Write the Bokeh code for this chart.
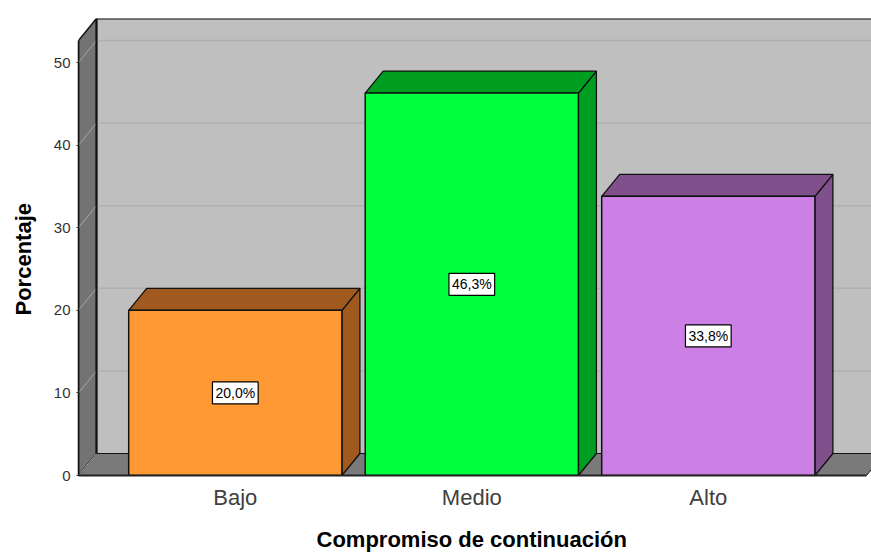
from bokeh.embed import file_html
from bokeh.models import FixedTicker, LinearAxis, Title
from bokeh.plotting import figure
from bokeh.resources import INLINE
from bokeh.core.properties import value

categories = ["Bajo", "Medio", "Alto"]
percentages = [20.0, 46.3, 33.8]
face_colors = ["#ff9933", "#00ff3c", "#cc80e6"]
side_colors = ["#a05a20", "#009e20", "#80508c"]
y_ticks = [0, 10, 20, 30, 40, 50]

FONT = "Liberation Sans"
UNITS_PER_BAR = 236.5
PX_PER_PCT = 8.26
CENTER_PX = 234.8
DX = 18 / UNITS_PER_BAR       # depth of the 3D box, horizontally
DY = 22 / PX_PER_PCT          # depth of the 3D box, vertically
HALF = 106.6 / UNITS_PER_BAR  # half the width of a bar face
LEFT = (78 - CENTER_PX) / UNITS_PER_BAR
RIGHT = (871 - CENTER_PX) / UNITS_PER_BAR
FLOOR_RIGHT = (866 - CENTER_PX) / UNITS_PER_BAR
TOP = 52.66

p = figure(
    width=871, height=552, output_backend="svg", toolbar_location=None,
    x_range=(LEFT, RIGHT), y_range=(0, (475 - 18) / PX_PER_PCT),
    min_border_left=78, min_border_right=0, min_border_top=18, min_border_bottom=77,
    background_fill_color="white", border_fill_color="white",
)
p.outline_line_color = None
p.grid.visible = False

# Box walls: back, left side and floor
p.patch([LEFT + DX, RIGHT + DX, RIGHT + DX, LEFT + DX], [DY, DY, TOP + DY, TOP + DY],
        fill_color="#bfbfbf", line_color=None)
p.patch([LEFT, LEFT + DX, LEFT + DX, LEFT], [0, DY, TOP + DY, TOP],
        fill_color="#737373", line_color="#111111", line_width=1.5)
p.patch([LEFT, FLOOR_RIGHT, FLOOR_RIGHT + DX, LEFT + DX], [0, 0, DY, DY],
        fill_color="#7a7a7a", line_color="#111111", line_width=1)

# Gridlines wrap from the side wall onto the back wall
for t in y_ticks[1:]:
    p.line([LEFT + DX, RIGHT + DX], [t + DY, t + DY], line_color="#b0b0b0", line_width=1.5)
for t in y_ticks:
    p.line([LEFT, LEFT + DX], [t, t + DY], line_color="#a8a8a8", line_width=1)

p.line([LEFT + DX, LEFT + DX], [DY, TOP + DY], line_color="#111111", line_width=2)
p.line([LEFT + DX, RIGHT + DX], [TOP + DY, TOP + DY], line_color="#111111", line_width=2)

# Bars: side, top, then front face
for i, (v, face, side) in enumerate(zip(percentages, face_colors, side_colors)):
    l, r = i - HALF, i + HALF
    p.patch([r, r + DX, r + DX, r], [0, DY, v + DY, v],
            fill_color=side, line_color="#111111", line_width=1.3)
    p.patch([l, r, r + DX, l + DX], [v, v, v + DY, v + DY],
            fill_color=side, line_color="#111111", line_width=1.3)
    p.quad(left=l, right=r, bottom=0, top=v,
           fill_color=face, line_color="#111111", line_width=1.5)

labels = [f"{v:.1f}%".replace(".", ",") for v in percentages]
p.text(
    x=list(range(len(labels))), y=[v / 2 for v in percentages], text=labels,
    text_align="center", text_baseline="middle", text_color="black",
    text_font=value(FONT), text_font_size="14px",
    background_fill_color="white", border_line_color="black", border_line_width=1.2,
    padding=3,
)

p.xaxis.ticker = FixedTicker(ticks=[0, 1, 2])
p.xaxis.major_label_overrides = dict(enumerate(categories))
p.xaxis.major_label_text_font = FONT
p.xaxis.major_label_text_font_size = "22px"
p.xaxis.major_label_text_color = "#404040"
p.xaxis.major_label_standoff = 9
p.xaxis.major_tick_in = 0
p.xaxis.major_tick_out = 0
p.xaxis.minor_tick_line_color = None
p.xaxis.bounds = (LEFT, FLOOR_RIGHT)
p.xaxis.axis_line_color = "#222222"
p.xaxis.axis_line_width = 2

p.yaxis.ticker = FixedTicker(ticks=y_ticks)
p.yaxis.major_label_text_font = FONT
p.yaxis.major_label_text_font_size = "15px"
p.yaxis.major_label_text_color = "#333333"
p.yaxis.major_label_standoff = 6
p.yaxis.major_tick_in = 0
p.yaxis.major_tick_out = 2
p.yaxis.major_tick_line_color = "#333333"
p.yaxis.minor_tick_line_color = None
p.yaxis.bounds = (0, TOP)
p.yaxis.axis_line_color = "#111111"
p.yaxis.axis_line_width = 1.5


def spacer_axis(gap):
    """An axis with nothing drawn, holding the axis title away from the tick labels."""
    return LinearAxis(
        ticker=FixedTicker(ticks=[0]), major_label_overrides={0: ""},
        major_label_standoff=0, major_label_text_font_size="1px",
        major_tick_in=0, major_tick_out=gap, major_tick_line_color=None,
        minor_tick_line_color=None, axis_line_color=None,
    )


p.add_layout(spacer_axis(12), "below")
p.add_layout(spacer_axis(15), "left")

# Axis titles sit off the frame's centre, so they are offset from its start
p.add_layout(Title(
    text="Compromiso de continuación", align="left", offset=238, standoff=0,
    vertical_align="bottom",
    text_color="black", text_font=FONT, text_font_style="bold", text_font_size="22px",
), "below")
p.add_layout(Title(
    text="Porcentaje", align="left", offset=160, standoff=0, vertical_align="bottom",
    text_color="black", text_font=FONT, text_font_style="bold", text_font_size="22px",
), "left")

open("out.html", "w").write(file_html(p, INLINE))
